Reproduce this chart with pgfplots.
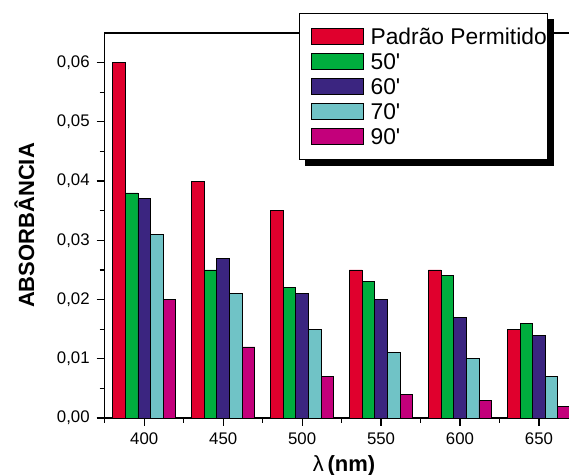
\documentclass[border=0pt]{standalone}
\usepackage{fontspec}
\setmainfont{Liberation Sans}
\usepackage{pgfplots}
\pgfplotsset{compat=1.18}
\usetikzlibrary{calc,backgrounds}
\definecolor{cRed}{HTML}{E0002D}
\definecolor{cGreen}{HTML}{00AE3E}
\definecolor{cBlue}{HTML}{3B2580}
\definecolor{cCyan}{HTML}{70C3C6}
\definecolor{cMag}{HTML}{C3007B}
\begin{document}
\begin{tikzpicture}
\begin{axis}[
  scale only axis, width=233.35pt, height=192.5pt,
  xmin=374.7, xmax=670.3, ymin=0, ymax=0.065,
  ybar=0pt, bar width=8,
  axis line style={line width=0.6pt},
  xtick={400,450,500,550,600,650},
  minor xtick={375,425,475,525,575,625},
  ytick={0,0.01,0.02,0.03,0.04,0.05,0.06},
  minor ytick={0.005,0.015,0.025,0.035,0.045,0.055},
  xtick pos=left, ytick pos=left, tick align=outside,
  major tick length=3.8pt, minor tick length=2.3pt,
  every tick/.style={line width=0.6pt, black},
  scaled y ticks=false,
  tick label style={font=\fontsize{8.4}{10}\selectfont},
  yticklabel style={/pgf/number format/.cd, fixed, fixed zerofill, precision=2, use comma, assume math mode=true},
  xticklabel style={/pgf/number format/.cd, assume math mode=true},
  ylabel={ABSORBÂNCIA},
  every axis y label/.style={at={(axis description cs:-0.1714,0.5)}, rotate=90, anchor=center, font=\fontsize{11}{13}\selectfont\bfseries},
  xlabel={λ\,\textbf{(nm)}},
  every axis x label/.style={at={(axis description cs:0.5136,-0.1247)}, anchor=center, font=\fontsize{11}{13}\selectfont},
  legend cell align=left,
  legend image code/.code={\draw[#1] (0pt,-4.15pt) rectangle (26pt,4.15pt);},
  legend style={at={(axis description cs:0.4172,1.0527)}, anchor=north west,
    name=leg,
    draw=black, line width=0.5pt, fill=white,
    font=\fontsize{11.4}{13}\selectfont,
    inner xsep=5.5pt, inner ysep=5.9pt, column sep=3.65pt, row sep=1pt,
    nodes={inner sep=0pt, text height=9.85pt, text depth=1.65pt}},
]
\addplot[fill=cRed, draw=black, line width=0.4pt, bar shift=-16] coordinates {(400,0.060) (450,0.040) (500,0.035) (550,0.025) (600,0.025) (650,0.015)};
\addplot[fill=cGreen, draw=black, line width=0.4pt, bar shift=-8] coordinates {(400,0.038) (450,0.025) (500,0.022) (550,0.023) (600,0.024) (650,0.016)};
\addplot[fill=cBlue, draw=black, line width=0.4pt, bar shift=0] coordinates {(400,0.037) (450,0.027) (500,0.021) (550,0.020) (600,0.017) (650,0.014)};
\addplot[fill=cCyan, draw=black, line width=0.4pt, bar shift=8] coordinates {(400,0.031) (450,0.021) (500,0.015) (550,0.011) (600,0.010) (650,0.007)};
\addplot[fill=cMag, draw=black, line width=0.4pt, bar shift=16] coordinates {(400,0.020) (450,0.012) (500,0.007) (550,0.004) (600,0.003) (650,0.002)};
\legend{\makebox[82.7pt][l]{Padrão Permitido}, 50\textquotesingle, 60\textquotesingle, 70\textquotesingle, 90\textquotesingle}
\end{axis}
\begin{scope}[on background layer]
\fill[black] ($(leg.south west)+(3pt,-3pt)$) rectangle ($(leg.north east)+(3pt,-3pt)$);
\end{scope}
\pgfresetboundingbox
\path ($(current axis.south west)+(-52.15pt,-28.5pt)$) rectangle ($(current axis.north east)+(-1pt,16.5pt)$);
\end{tikzpicture}
\end{document}
